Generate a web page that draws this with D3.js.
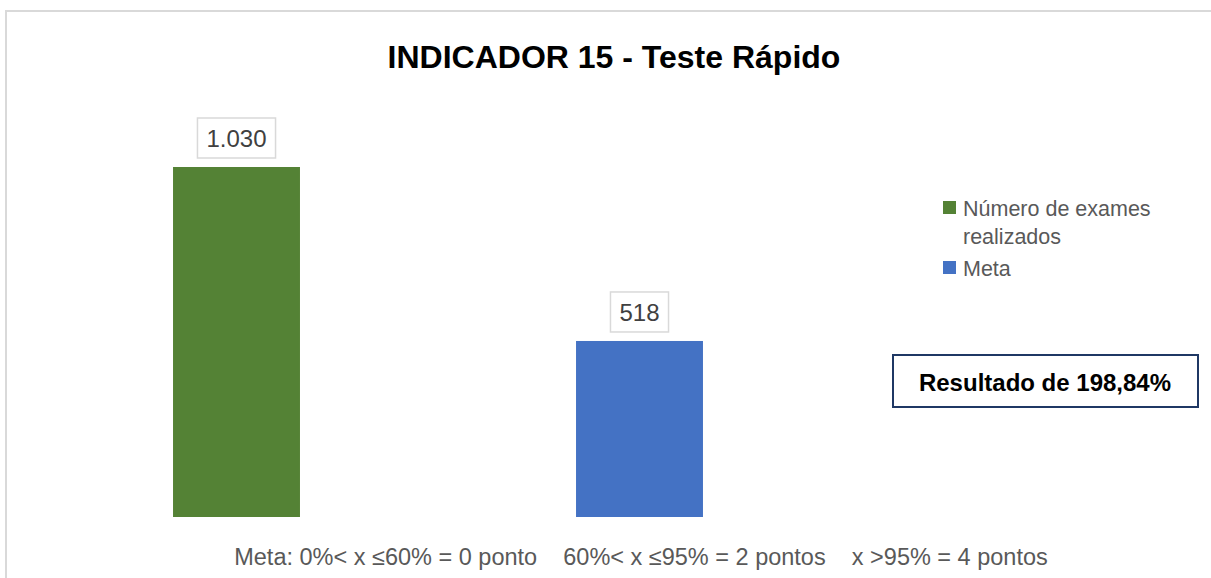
<!DOCTYPE html>
<html>
<head>
<meta charset="utf-8">
<script src="https://cdn.jsdelivr.net/npm/d3@7"></script>
<style>
body{margin:0;background:#fff;}
svg{display:block;font-family:"Liberation Sans",Arial,sans-serif;}
</style>
</head>
<body>
<div class="chart"></div>
<script>
const categories=['Número de exames realizados','Meta'];
const values=[1030,518];
const valueLabels=['1.030','518'];
const colors=['#548235','#4472c4'];
const legendLines=[['Número de exames','realizados'],['Meta']];
const title='INDICADOR 15 - Teste Rápido';
const resultText='Resultado de 198,84%';
const footText='Meta: 0%< x ≤60% = 0 ponto    60%< x ≤95% = 2 pontos    x >95% = 4 pontos';

function renderChart(){
	const width=1211;
	const height=578;
	const svg=d3.select('.chart')
		.append('svg')
		.attr('width',width)
		.attr('height',height)

	// chart frame (runs off the right and bottom edges)
	svg.append('rect')
		.attr('x',6).attr('y',11)
		.attr('width',1240).attr('height',600)
		.attr('fill','none')
		.attr('stroke','#d9d9d9')
		.attr('stroke-width',2)

	svg.append('text')
		.attr('x',614).attr('y',68)
		.attr('text-anchor','middle')
		.attr('font-size',32)
		.attr('font-weight','bold')
		.attr('fill','#000')
		.text(title)

	const x=d3.scaleBand()
		.domain(categories)
		.range([35,841])
		.paddingInner(0.685)
		.paddingOuter(0.3425)

	const y=d3.scaleLinear()
		.domain([0,1030])
		.range([517,167])

	svg.selectAll('rect.bar')
		.data(values)
		.enter()
		.append('rect')
		.attr('class','bar')
		.attr('x',(d,i)=>x(categories[i]))
		.attr('y',d=>y(d))
		.attr('width',x.bandwidth())
		.attr('height',d=>y(0)-y(d))
		.attr('fill',(d,i)=>colors[i])

	// data labels with boxes
	const lab=svg.selectAll('g.lab')
		.data(values)
		.enter()
		.append('g')
		.attr('class','lab')
		.attr('transform',(d,i)=>'translate('+(x(categories[i])+x.bandwidth()/2)+','+(y(d)-29)+')')

	lab.append('text')
		.attr('text-anchor','middle')
		.attr('dy','0.36em')
		.attr('font-size',24)
		.attr('fill','#404040')
		.text((d,i)=>valueLabels[i])

	lab.each(function(){
		const g=d3.select(this);
		const bb=g.select('text').node().getBBox();
		g.insert('rect','text')
			.attr('x',bb.x-9).attr('y',-20)
			.attr('width',bb.width+18).attr('height',40)
			.attr('fill','#fff')
			.attr('stroke','#d9d9d9')
			.attr('stroke-width',1.5)
	})

	// legend
	const legY=[201,261];
	const leg=svg.selectAll('g.leg')
		.data(categories)
		.enter()
		.append('g')
		.attr('class','leg')
		.attr('transform',(d,i)=>'translate(943,'+legY[i]+')')

	leg.append('rect')
		.attr('width',13).attr('height',13)
		.attr('fill',(d,i)=>colors[i])

	leg.append('text')
		.attr('x',20).attr('y',15)
		.attr('font-size',21.5)
		.attr('fill','#595959')
		.selectAll('tspan')
		.data((d,i)=>legendLines[i])
		.enter()
		.append('tspan')
		.attr('x',20)
		.attr('dy',(d,j)=>j===0?0:28)
		.text(d=>d)

	// result box
	svg.append('rect')
		.attr('x',893).attr('y',355)
		.attr('width',305).attr('height',52)
		.attr('fill','#fff')
		.attr('stroke','#1f3864')
		.attr('stroke-width',2)

	svg.append('text')
		.attr('x',1045).attr('y',391)
		.attr('text-anchor','middle')
		.attr('font-size',24)
		.attr('font-weight','bold')
		.attr('fill','#000')
		.text(resultText)

	svg.append('text')
		.attr('x',641).attr('y',565)
		.attr('text-anchor','middle')
		.attr('font-size',23.5)
		.attr('fill','#595959')
		.attr('xml:space','preserve')
		.style('white-space','pre')
		.text(footText)
}

renderChart();
</script>
</body>
</html>
